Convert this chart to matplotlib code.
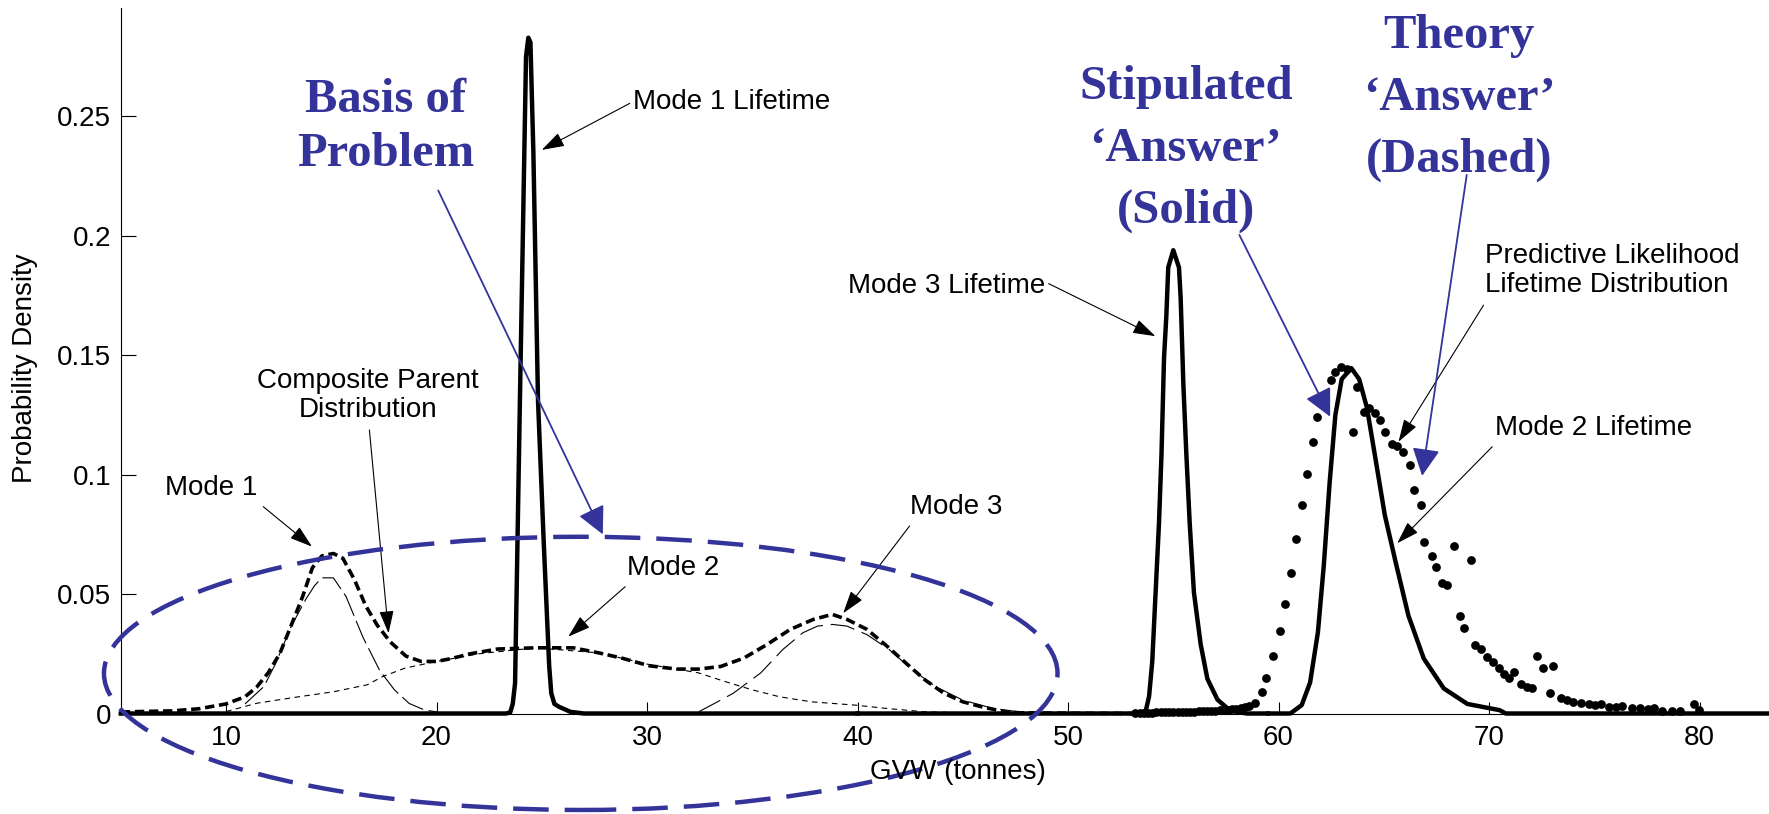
import numpy as np
import matplotlib.pyplot as plt
from matplotlib.patches import Ellipse

plt.rcParams['font.family'] = ['Liberation Sans', 'DejaVu Sans']

BLUE = '#333399'

# ---- data ----
mode1_life_x = [5, 23.3, 23.5, 23.62, 23.73, 23.96, 24.1, 24.25, 24.36, 24.46, 24.6, 24.82,
                25.1, 25.35, 25.45, 25.6, 25.82, 26.36, 27.0, 40]
mode1_life_y = [0, 0, 0.0005, 0.004, 0.0127, 0.131, 0.2, 0.275, 0.283, 0.281, 0.235, 0.131,
                0.07, 0.02, 0.0085, 0.004, 0.0028, 0.0007, 0, 0]

mode3_life_x = [40, 53.45, 53.7, 53.85, 54.0, 54.16, 54.32, 54.44, 54.56, 54.67, 54.76, 55.0,
                55.27, 55.35, 55.48, 55.62, 55.78, 55.98, 56.3, 56.62, 57.1, 57.57, 58.0, 58.5, 59.5]
mode3_life_y = [0, 0, 0.0014, 0.0072, 0.0217, 0.0507, 0.0796, 0.1086, 0.149, 0.1665, 0.1868, 0.194,
                0.1868, 0.174, 0.1375, 0.1086, 0.0796, 0.0507, 0.029, 0.0145, 0.0058, 0.0022, 0.0007, 0, 0]

mode2_life_x = [59.5, 60.56, 61.1, 61.5, 61.87, 62.15, 62.43, 62.7, 63.0, 63.46, 63.83, 64.2,
                64.58, 65.05, 65.6, 66.17, 66.9, 67.85, 68.97, 70.5, 70.8, 83.3]
mode2_life_y = [0, 0, 0.0035, 0.013, 0.034, 0.062, 0.097, 0.125, 0.140, 0.1446, 0.140, 0.128,
                0.108, 0.083, 0.062, 0.041, 0.023, 0.0105, 0.004, 0.0014, 0, 0]

composite_x = [5.0, 5.27, 7.45, 8.73, 10.0, 10.9, 11.45, 12.0, 12.55, 13.1, 13.64, 14.1, 14.55,
               15.1, 15.55, 16.1, 16.64, 17.18, 17.8, 18.55, 19.27, 20.0, 20.7, 21.6, 22.9, 24.7,
               26.5, 27.7, 28.8, 30.1, 31.4, 32.45, 33.5, 34.6, 35.7, 36.8, 37.9, 38.8, 39.5,
               40.45, 41.4, 42.3, 43.2, 44.1, 45.0, 45.9, 47.0, 47.7, 50.0, 53.2]
composite_y = [0.0005, 0.0007, 0.0011, 0.002, 0.004, 0.007, 0.011, 0.017, 0.025, 0.037, 0.049,
               0.061, 0.066, 0.067, 0.065, 0.056, 0.045, 0.037, 0.030, 0.024, 0.0218, 0.0218,
               0.023, 0.025, 0.027, 0.0275, 0.0275, 0.0254, 0.0232, 0.020, 0.0186, 0.0186, 0.0197,
               0.0232, 0.0289, 0.0352, 0.0394, 0.0415, 0.0394, 0.0352, 0.0282, 0.0211, 0.0141,
               0.0085, 0.0049, 0.0028, 0.0007, 0.0003, 0.0001, 0]

comp1_x = [10.9, 11.8, 12.36, 13.1, 13.8, 14.2, 14.55, 15.1, 15.7, 16.5, 17.3, 18.0, 18.7, 19.45, 20.0]
comp1_y = [0.004, 0.0113, 0.021, 0.0366, 0.048, 0.0535, 0.0568, 0.0568, 0.049, 0.032, 0.018,
           0.0099, 0.0042, 0.0014, 0.0007]

comp2_x = [10.0, 11.46, 13.3, 15.1, 16.7, 17.45, 18.5, 20.0, 22.0, 24.7, 27.7, 30.1, 31.4, 32.45,
           33.7, 35.0, 36.3, 37.8, 39.9, 41.4, 43.2, 45.9, 48.0]
comp2_y = [0.0008, 0.0043, 0.0068, 0.0091, 0.012, 0.0155, 0.019, 0.0218, 0.025, 0.0275, 0.0254,
           0.0205, 0.0186, 0.017, 0.0134, 0.0099, 0.007, 0.0049, 0.0035, 0.0021, 0.0007, 0.0002, 0]

comp3_x = [32.45, 33.2, 34.1, 35.4, 36.45, 37.4, 38.1, 38.8, 39.5, 40.45, 41.5, 42.6, 43.7, 45.0, 46.45, 47.7]
comp3_y = [0.0007, 0.0042, 0.0085, 0.017, 0.0268, 0.0338, 0.0366, 0.0373, 0.0366, 0.033, 0.0268,
           0.0183, 0.0113, 0.0056, 0.0021, 0.0007]

pred_x = [53.2, 53.4, 53.6, 53.8, 54.0, 54.2, 54.4, 54.6, 54.8, 55.0, 55.2, 55.4, 55.6, 55.8, 56.0,
          56.2, 56.4, 56.6, 56.8, 57.0, 57.2, 57.4, 57.6, 57.8, 58.0, 58.2, 58.4, 58.6,
          58.9, 59.2, 59.42, 59.75, 60.05, 60.3, 60.6, 60.82, 61.12, 61.34, 61.62, 61.85, 62.47,
          62.69, 62.97, 63.23, 63.53, 63.72, 64.04, 64.28, 64.56, 64.84, 65.08, 65.4, 65.62,
          65.91, 66.24, 66.45, 66.75, 66.93, 67.27, 67.46, 67.77, 67.98, 68.32, 68.63, 68.82,
          69.14, 69.33, 69.62, 69.89, 70.19, 70.47, 70.69, 70.97, 71.19, 71.51, 71.79, 72.05,
          72.26, 72.56, 72.88, 73.06, 73.44, 73.72, 74.0, 74.37, 74.75, 75.03, 75.31, 75.68,
          76.05, 76.34, 76.8, 77.18, 77.55, 77.83, 78.2, 78.67, 79.05, 79.76, 79.98]
pred_y = [0.0003, 0.0003, 0.0004, 0.0004, 0.0004, 0.0005, 0.0005, 0.0005, 0.0006, 0.0006, 0.0006,
          0.0007, 0.0007, 0.0008, 0.0008, 0.0009, 0.0009, 0.001, 0.0011, 0.0012, 0.0013, 0.0014,
          0.0015, 0.0017, 0.0019, 0.0022, 0.0026, 0.0032,
          0.0045, 0.0089, 0.0147, 0.0240, 0.0346, 0.0460, 0.0590, 0.0729, 0.0875, 0.1004, 0.1136,
          0.1241, 0.1397, 0.1432, 0.1450, 0.1442, 0.1178, 0.1369, 0.1264, 0.1278, 0.1257, 0.1229,
          0.1178, 0.1129, 0.1120, 0.1094, 0.1041, 0.0935, 0.0873, 0.0719, 0.0658, 0.0615, 0.0548,
          0.0538, 0.0703, 0.0408, 0.0356, 0.0643, 0.0286, 0.0268, 0.0235, 0.0217, 0.0191, 0.0165,
          0.0147, 0.0175, 0.0123, 0.0112, 0.0105, 0.0242, 0.0191, 0.0087, 0.0200, 0.0063, 0.0056,
          0.0049, 0.0042, 0.0038, 0.0035, 0.0038, 0.0028, 0.0028, 0.0032, 0.0021, 0.0021, 0.0018,
          0.0021, 0.0011, 0.0011, 0.0011, 0.0038, 0.0014]

x_ticks = [10, 20, 30, 40, 50, 60, 70, 80]
y_ticks = [0, 0.05, 0.1, 0.15, 0.2, 0.25]
y_tick_labels = ['0', '0.05', '0.1', '0.15', '0.2', '0.25']

black_labels = [
    ('Mode 1 Lifetime', 29.33, 0.2562, 'left'),
    ('Composite Parent\nDistribution', 16.74, 0.133, 'center'),
    ('Mode 1', 7.08, 0.0943, 'left'),
    ('Mode 2', 29.05, 0.0608, 'left'),
    ('Mode 3', 42.5, 0.0866, 'left'),
    ('Mode 3 Lifetime', 48.9, 0.179, 'right'),
    ('Predictive Likelihood\nLifetime Distribution', 69.81, 0.1853, 'left'),
    ('Mode 2 Lifetime', 70.3, 0.1196, 'left'),
]
black_arrows = [
    ((29.18, 0.2555), (25.0, 0.236)),
    ((16.81, 0.1187), (17.72, 0.0336)),
    ((11.77, 0.0866), (14.08, 0.0699)),
    ((28.96, 0.0531), (26.26, 0.0322)),
    ((42.47, 0.0785), (39.32, 0.042)),
    ((49.08, 0.180), (54.15, 0.158)),
    ((69.74, 0.171), (65.70, 0.1138)),
    ((70.15, 0.1117), (65.64, 0.0713)),
]
blue_labels = [
    ('Basis of\nProblem', 17.6, 0.2455, 1.3),
    ('Stipulated\n\u2018Answer\u2019\n(Solid)', 55.6, 0.2365, 1.52),
    ('Theory\n\u2018Answer\u2019\n(Dashed)', 68.58, 0.2578, 1.52),
]
blue_arrows = [
    ((20.08, 0.219), (27.9, 0.075)),
    ((58.14, 0.2004), (62.45, 0.1243)),
    ((68.94, 0.2255), (66.82, 0.0995)),
]

# ---- figure ----
W, H = 1769, 814
fig = plt.figure(figsize=(W / 100, H / 100), dpi=100)
ax = fig.add_axes([120.8 / W, 100.5 / H, 1 - 120.8 / W, (713.5 - 8.3) / H])
ax.set_xlim(5, 83.3)
ax.set_ylim(0, 0.2953)
for s in ['top', 'right']:
    ax.spines[s].set_visible(False)
for s in ['left', 'bottom']:
    ax.spines[s].set_linewidth(0.8)

ax.set_xticks(x_ticks)
ax.set_yticks(y_ticks)
ax.set_yticklabels(y_tick_labels)
ax.tick_params(axis='x', direction='in', length=9, width=0.8, pad=8, labelsize=20)
ax.tick_params(axis='y', direction='in', length=11, width=0.8, pad=7, labelsize=20)

# thin component curves
ax.plot(comp1_x, comp1_y, color='k', lw=0.8, dashes=(22, 5))
ax.plot(comp2_x, comp2_y, color='k', lw=0.8, dashes=(5, 4))
ax.plot(comp3_x, comp3_y, color='k', lw=0.8, dashes=(22, 7))

# composite parent (thick dashed)
ax.plot(composite_x, composite_y, color='k', lw=2.6, dashes=(2.6, 1.3), clip_on=False)

# lifetime distributions (thick solid)
for lx, ly in [(mode1_life_x, mode1_life_y), (mode3_life_x, mode3_life_y), (mode2_life_x, mode2_life_y)]:
    ax.plot(lx, ly, color='k', lw=3.2, solid_joinstyle='round', clip_on=False)

# predictive likelihood (dots)
ax.plot(pred_x, pred_y, 'o', color='k', ms=6.3, mec='none', clip_on=False)

# blue ellipse
ell = Ellipse((26.85, 0.0168), 45.3, 0.1144, fill=False, ec=BLUE, lw=3.2,
              linestyle=(0, (8.0, 3.6)), clip_on=False, zorder=5)
ax.add_patch(ell)

for txt, x, y, ha in black_labels:
    ax.text(x, y, txt, ha=ha, va='center', fontsize=20, linespacing=1.15)
for tail, head in black_arrows:
    ax.annotate('', xy=head, xytext=tail, annotation_clip=False,
                arrowprops=dict(arrowstyle='-|>,head_length=1.4,head_width=0.45',
                                mutation_scale=10, color='k', lw=0.8,
                                shrinkA=0, shrinkB=0))

for txt, x, y, ls in blue_labels:
    ax.text(x, y, txt, ha='center', va='center', fontsize=35, color=BLUE,
            family='Liberation Serif', fontweight='bold', linespacing=ls)
for tail, head in blue_arrows:
    ax.annotate('', xy=head, xytext=tail, annotation_clip=False, zorder=6,
                arrowprops=dict(arrowstyle='-|>,head_length=1.7,head_width=0.85',
                                mutation_scale=10, color=BLUE, lw=1.3,
                                shrinkA=0, shrinkB=0))

fig.text(958 / W, 1 - 771.7 / H, 'GVW (tonnes)', ha='center', va='center', fontsize=20)
fig.text(25 / W, 1 - 368 / H, 'Probability Density', ha='center', va='center',
         rotation=90, fontsize=20)

fig.savefig('out.png', dpi=100)
